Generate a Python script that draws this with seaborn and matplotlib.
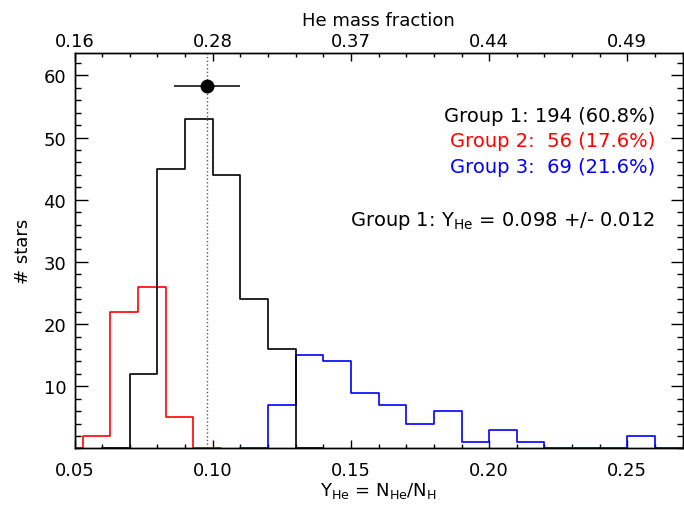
import matplotlib
matplotlib.use('Agg')
import matplotlib.pyplot as plt
from matplotlib.ticker import MultipleLocator, FixedLocator
import seaborn as sns
import numpy as np
import pandas as pd

# 그룹별 히스토그램 (bin 폭 0.01, 양 끝에 0 bin 추가)
edges_g1 = [0.06, 0.07, 0.08, 0.09, 0.10, 0.11, 0.12, 0.13, 0.14]
counts_g1 = [0, 12, 45, 53, 44, 24, 16, 0]

edges_g2 = [0.043, 0.053, 0.063, 0.073, 0.083, 0.093, 0.103]
counts_g2 = [0, 2, 22, 26, 5, 0]

edges_g3 = [0.11, 0.12, 0.13, 0.14, 0.15, 0.16, 0.17, 0.18, 0.19,
            0.20, 0.21, 0.22, 0.23, 0.24, 0.25, 0.26, 0.27]
counts_g3 = [0, 7, 15, 14, 9, 7, 4, 6, 1, 3, 1, 0, 0, 0, 2, 0]

# 평균값 + 오차
y_he_mean = 0.098
y_he_err = 0.012
marker_y = 58.3

# 위쪽 축 (He mass fraction)
top_tick_pos = [0.05, 0.10, 0.15, 0.20, 0.25]
top_tick_labels = ['0.16', '0.28', '0.37', '0.44', '0.49']

group_texts = ['Group 1: 194 (60.8%)', 'Group 2:  56 (17.6%)', 'Group 3:  69 (21.6%)']
group_colors = ['black', 'red', 'blue']

sns.set_style('ticks')
plt.rcParams['font.family'] = ['DejaVu Sans']
plt.rcParams['mathtext.default'] = 'regular'
for k in ['text.color', 'axes.labelcolor', 'xtick.color', 'ytick.color']:
    plt.rcParams[k] = 'black'

fig = plt.figure(figsize=(6.84, 5.06), dpi=100)
ax = fig.add_axes([0.109, 0.1117, 0.889, 0.7816])


def hist_frame(edges, counts):
    edges = np.array(edges)
    centers = (edges[:-1] + edges[1:]) / 2
    return pd.DataFrame({'x': centers, 'w': counts})


for edges, counts, color in [(edges_g3, counts_g3, 'blue'),
                             (edges_g2, counts_g2, 'red'),
                             (edges_g1, counts_g1, 'black')]:
    df = hist_frame(edges, counts)
    sns.histplot(data=df, x='x', weights='w', bins=edges, element='step',
                 fill=False, color=color, linewidth=1.2, ax=ax)

# 평균 위치 점선 + 오차 막대
ax.axvline(y_he_mean, color='0.35', linestyle=':', linewidth=1.0)
ax.errorbar(y_he_mean, marker_y, xerr=y_he_err, fmt='o', color='black',
            markersize=9, elinewidth=1.1, capsize=0)

ax.set_xlim(0.05, 0.27)
ax.set_ylim(0, 63.6)
ax.set_xticks([0.05, 0.10, 0.15, 0.20, 0.25])
ax.set_xticklabels(['0.05', '0.10', '0.15', '0.20', '0.25'])
ax.xaxis.set_minor_locator(MultipleLocator(0.01))
ax.set_yticks([10, 20, 30, 40, 50, 60])
ax.yaxis.set_minor_locator(MultipleLocator(2))
ax.tick_params(axis='x', which='major', direction='in', length=6, width=1, labelsize=13, pad=9)
ax.tick_params(axis='x', which='minor', direction='in', length=3, width=1)
ax.tick_params(axis='y', which='major', direction='in', length=9, width=1, labelsize=13, right=True, pad=6)
ax.tick_params(axis='y', which='minor', direction='in', length=4.5, width=1, right=True)
ax.set_xlabel(r'Y$_{He}$ = N$_{He}$/N$_{H}$', fontsize=13, labelpad=1)
ax.set_ylabel('# stars', fontsize=13, labelpad=8)
for s in ax.spines.values():
    s.set_linewidth(1.0)
    s.set_color('black')

ax2 = ax.twiny()
ax2.set_xlim(ax.get_xlim())
ax2.xaxis.set_major_locator(FixedLocator(top_tick_pos))
ax2.set_xticklabels(top_tick_labels)
ax2.xaxis.set_minor_locator(MultipleLocator(0.01))
ax2.tick_params(axis='x', which='major', direction='in', length=6, width=1, labelsize=13, pad=2)
ax2.tick_params(axis='x', which='minor', direction='in', length=3, width=1)
ax2.set_xlabel('He mass fraction', fontsize=13, labelpad=5)
for s in ax2.spines.values():
    s.set_linewidth(1.0)
    s.set_color('black')

# 그룹 정보 텍스트
text_y = [0.828, 0.765, 0.699]
for t, c, yy in zip(group_texts, group_colors, text_y):
    ax.text(0.9545, yy, t, color=c, fontsize=14, ha='right', va='baseline',
            transform=ax.transAxes)
ax.text(0.9545, 0.564, r'Group 1: Y$_{He}$ = 0.098 +/- 0.012', color='black',
        fontsize=14, ha='right', va='baseline', transform=ax.transAxes)

fig.savefig('out.png', dpi=100)
